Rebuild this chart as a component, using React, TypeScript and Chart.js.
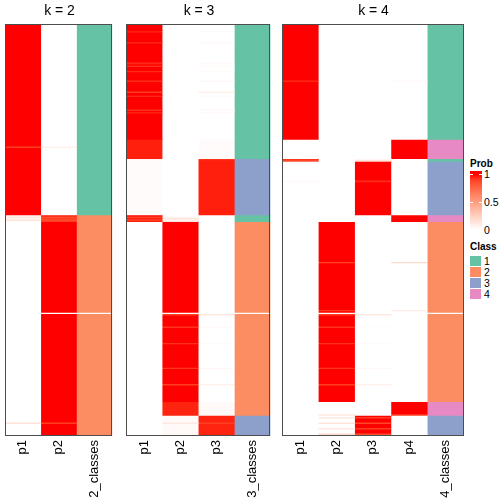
import React, { useEffect, useRef } from "react";
import { Chart, registerables } from "chart.js";
Chart.register(...registerables);

// ---- data (row groups, top to bottom; counts = number of samples) ----
const rowCounts = [
  5, 1, 7, 1, 14, 1, 1, 1, 3, 1, 6, 1, 7, 1, 2, 1, 9, 1, 1, 1, 19,
  5, 1, 8,
  1, 1,
  14, 1, 24,
  1, 1, 1, 1, 1,
  29, 1, 34, 1, 1, 1, 1, 8, 1, 11, 1, 17, 1, 11, 1, 12,
  9, 1,
  1, 1, 3, 1, 3, 1, 3, 2,
];

const k2Columns = ["p1", "p2", "2_classes"];
const k3Columns = ["p1", "p2", "p3", "3_classes"];
const k4Columns = ["p1", "p2", "p3", "p4", "4_classes"];

const k2Probs = [
  [1, 0], [1, 0], [1, 0], [1, 0], [1, 0], [1, 0], [1, 0], [1, 0], [1, 0], [1, 0], [1, 0],
  [1, 0], [1, 0], [1, 0], [1, 0], [1, 0], [1, 0], [1, 0], [1, 0], [1, 0], [1, 0],
  [1, 0], [0.9, 0.08], [1, 0],
  [1, 0], [1, 0],
  [1, 0], [1, 0], [1, 0],
  [0.02, 0.98], [0.15, 0.85], [0.03, 0.9], [0.15, 0.85], [0.03, 0.9],
  [0, 1], [0, 1], [0, 1], [0, 1], [0, 1], [0, 0], [0, 1], [0, 1], [0, 1], [0, 1], [0, 1], [0, 1], [0, 1], [0, 1], [0, 1], [0, 1],
  [0, 1], [0, 1],
  [0, 1], [0, 1], [0, 1], [0.15, 0.9], [0, 1], [0, 1], [0, 1], [0, 1],
];
const k2Classes = [
  1, 1, 1, 1, 1, 1, 1, 1, 1, 1, 1, 1, 1, 1, 1, 1, 1, 1, 1, 1, 1,
  1, 1, 1,
  1, 1,
  1, 1, 1,
  2, 2, 2, 2, 2,
  2, 2, 2, 2, 2, 0, 2, 2, 2, 2, 2, 2, 2, 2, 2, 2,
  2, 2,
  2, 2, 2, 2, 2, 2, 2, 2,
];

const k3Probs = [
  [1, 0, 0], [0.95, 0, 0.03], [1, 0, 0], [0.95, 0, 0.03], [1, 0, 0], [0.95, 0, 0.03], [1, 0, 0],
  [0.95, 0, 0.03], [1, 0, 0], [0.95, 0, 0.03], [1, 0, 0], [0.94, 0, 0.04], [1, 0, 0], [0.9, 0, 0.08],
  [1, 0, 0], [0.95, 0, 0.03], [1, 0, 0], [0.95, 0, 0.03], [1, 0, 0], [0.95, 0, 0.03], [1, 0, 0],
  [0.97, 0, 0.02], [0.97, 0, 0.02], [0.97, 0, 0.02],
  [0.05, 0, 0.92], [0.02, 0, 0.97],
  [0.02, 0, 0.97], [0.02, 0, 0.97], [0.02, 0, 0.97],
  [1, 0, 0], [0.88, 0.05, 0], [0.97, 0.15, 0], [0.88, 0.05, 0], [0.97, 0.15, 0],
  [0, 1, 0], [0, 1, 0], [0, 1, 0], [0, 1, 0], [0, 1, 0], [0, 0, 0], [0, 0.9, 0.12], [0, 1, 0],
  [0, 0.93, 0.03], [0, 1, 0], [0, 0.93, 0.03], [0, 1, 0], [0, 0.92, 0.05], [0, 1, 0], [0, 0.9, 0.07], [0, 1, 0],
  [0, 0.96, 0.03], [0, 0.96, 0.03],
  [0, 0.03, 0.96], [0, 0.03, 0.96], [0, 0.03, 0.96], [0, 0.12, 0.9], [0, 0.03, 0.96], [0, 0.03, 0.96], [0, 0.03, 0.96], [0, 0.03, 0.96],
];
const k3Classes = [
  1, 1, 1, 1, 1, 1, 1, 1, 1, 1, 1, 1, 1, 1, 1, 1, 1, 1, 1, 1, 1,
  1, 1, 1,
  3, 3,
  3, 3, 3,
  1, 1, 1, 1, 1,
  2, 2, 2, 2, 2, 0, 2, 2, 2, 2, 2, 2, 2, 2, 2, 2,
  2, 2,
  3, 3, 3, 3, 3, 3, 3, 3,
];

const k4Probs = [
  [1, 0, 0, 0], [1, 0, 0, 0], [1, 0, 0, 0], [1, 0, 0, 0], [1, 0, 0, 0], [1, 0, 0, 0], [1, 0, 0, 0],
  [1, 0, 0, 0], [1, 0, 0, 0], [1, 0, 0, 0], [1, 0, 0, 0], [0.95, 0, 0, 0.03], [1, 0, 0, 0], [1, 0, 0, 0],
  [1, 0, 0, 0], [1, 0, 0, 0], [1, 0, 0, 0], [1, 0, 0, 0], [1, 0, 0, 0], [1, 0, 0, 0], [1, 0, 0, 0],
  [0, 0, 0, 1], [0, 0, 0, 1], [0, 0, 0, 1],
  [0.92, 0, 0.05, 0], [0.85, 0, 0.15, 0],
  [0, 0, 1, 0], [0.03, 0, 0.95, 0], [0, 0, 1, 0],
  [0, 0, 0, 1], [0, 0, 0, 1], [0, 0, 0, 1], [0, 0, 0, 1], [0, 0, 0, 1],
  [0, 1, 0, 0], [0, 0.88, 0, 0.2], [0, 1, 0, 0], [0, 0.92, 0, 0.1], [0, 1, 0, 0], [0, 0, 0, 0],
  [0, 0.9, 0.12, 0], [0, 1, 0, 0], [0, 0.93, 0.02, 0], [0, 1, 0, 0], [0, 0.93, 0.02, 0], [0, 1, 0, 0],
  [0, 0.92, 0.04, 0], [0, 1, 0, 0], [0, 0.9, 0.07, 0], [0, 1, 0, 0],
  [0, 0, 0, 1], [0, 0.12, 0, 0.9],
  [0, 0, 1, 0], [0, 0.12, 0.9, 0], [0, 0, 1, 0], [0, 0.15, 0.88, 0], [0, 0, 1, 0], [0, 0.12, 0.9, 0], [0, 0, 1, 0], [0, 0.2, 0.85, 0],
];
const k4Classes = [
  1, 1, 1, 1, 1, 1, 1, 1, 1, 1, 1, 1, 1, 1, 1, 1, 1, 1, 1, 1, 1,
  4, 4, 4,
  1, 1,
  3, 3, 3,
  4, 4, 4, 4, 4,
  2, 2, 2, 2, 2, 0, 2, 2, 2, 2, 2, 2, 2, 2, 2, 2,
  4, 4,
  3, 3, 3, 3, 3, 3, 3, 3,
];

const classLabels = ["1", "2", "3", "4"];
const probTicks = ["1", "0.5", "0"];

// ---- styling ----
const CLASS_COLORS: Record<number, string> = { 0: "#ffffff", 1: "#66C2A5", 2: "#FC8D62", 3: "#8DA0CB", 4: "#E78AC3" };
const FONT = "'Liberation Sans', Arial, Helvetica, sans-serif";

function labToRgb(L: number, a: number, b: number): string {
  const fy = (L + 16) / 116;
  const fx = fy + a / 500;
  const fz = fy - b / 200;
  const f = (t: number) => (t ** 3 > 0.008856 ? t ** 3 : (t - 16 / 116) / 7.787);
  const X = 0.95047 * f(fx), Y = f(fy), Z = 1.08883 * f(fz);
  const r = 3.2406 * X - 1.5372 * Y - 0.4986 * Z;
  const g = -0.9689 * X + 1.8758 * Y + 0.0415 * Z;
  const bl = 0.0557 * X - 0.204 * Y + 1.057 * Z;
  const gam = (c: number) => {
    c = Math.max(0, Math.min(1, c));
    return c <= 0.0031308 ? 12.92 * c : 1.055 * Math.pow(c, 1 / 2.4) - 0.055;
  };
  return `rgb(${Math.round(gam(r) * 255)},${Math.round(gam(g) * 255)},${Math.round(gam(bl) * 255)})`;
}
function probColor(v: number): string {
  return labToRgb(100 + (53.24 - 100) * v, 80.09 * v, 67.2 * v);
}

const TOTAL = rowCounts.reduce((s, n) => s + n, 0);

const borderPlugin = {
  id: "panelBorder",
  afterDatasetsDraw(chart: any) {
    const { ctx, chartArea } = chart;
    ctx.save();
    ctx.strokeStyle = "#4d4d4d";
    ctx.lineWidth = 1;
    ctx.strokeRect(
      Math.round(chartArea.left) + 0.5,
      Math.round(chartArea.top) + 0.5,
      Math.round(chartArea.right - chartArea.left) - 1,
      Math.round(chartArea.bottom - chartArea.top) - 1
    );
    ctx.restore();
  },
};

function Panel(props: { left: number; width: number; title: string; columns: string[]; probs: number[][]; classes: number[] }) {
  const ref = useRef<HTMLCanvasElement>(null);
  useEffect(() => {
    const { columns, probs, classes, title } = props;
    const starts: number[] = [];
    let acc = 0;
    rowCounts.forEach((n) => { starts.push(acc); acc += n; });
    const datasets: any[] = [];
    columns.forEach((_, ci) => {
      const isClass = ci === columns.length - 1;
      const colorAt = (gi: number) => (isClass ? CLASS_COLORS[classes[gi]] : probColor(probs[gi][ci]));
      let gi = 0;
      while (gi < rowCounts.length) {
        const c = colorAt(gi);
        let gj = gi;
        while (gj + 1 < rowCounts.length && colorAt(gj + 1) === c) gj++;
        const s = starts[gi];
        const e = starts[gj] + rowCounts[gj];
        datasets.push({
          data: columns.map((__, k) => (k === ci ? [s, e] : null)),
          backgroundColor: c,
          borderWidth: 0,
          grouped: false,
          barPercentage: 1,
          categoryPercentage: 1,
          inflateAmount: 0.3,
        });
        gi = gj + 1;
      }
    });
    const chart = new Chart(ref.current as HTMLCanvasElement, {
      type: "bar",
      data: { labels: columns, datasets },
      options: {
        animation: false,
        responsive: false,
        maintainAspectRatio: false,
        layout: { padding: 0 },
        plugins: {
          legend: { display: false },
          tooltip: { enabled: false },
          title: {
            display: true,
            text: title,
            color: "#000",
            font: { family: FONT, size: 14, weight: "normal" as any, lineHeight: 1.2 },
            padding: { top: 3, bottom: 4.2 },
          },
        },
        scales: {
          x: {
            type: "category",
            offset: true,
            grid: { display: false, drawTicks: false },
            border: { display: false },
            ticks: {
              color: "#000",
              font: { family: FONT, size: 13 },
              minRotation: 90,
              maxRotation: 90,
              autoSkip: false,
              padding: 4,
            },
            afterFit: (scale: any) => { scale.height = 68; },
          },
          y: { type: "linear", display: false, min: 0, max: TOTAL, reverse: true },
        },
      },
      plugins: [borderPlugin],
    });
    return () => chart.destroy();
  }, []);
  return (
    <canvas
      ref={ref}
      width={props.width}
      height={504}
      style={{ position: "absolute", left: props.left, top: 0, width: props.width, height: 504 }}
    />
  );
}

export default function App() {
  const gradStops: string[] = [];
  for (let i = 0; i <= 10; i++) gradStops.push(`${probColor(1 - i / 10)} ${5 + i * 9}%`);
  const txt = { position: "absolute" as const, fontFamily: FONT, color: "#000", whiteSpace: "nowrap" as const };
  return (
    <div style={{ position: "absolute", left: 0, top: 0, width: 504, height: 504, background: "#fff", overflow: "hidden" }}>
      <Panel left={5} width={109} title="k = 2" columns={k2Columns} probs={k2Probs} classes={k2Classes} />
      <Panel left={126} width={146} title="k = 3" columns={k3Columns} probs={k3Probs} classes={k3Classes} />
      <Panel left={282} width={183} title="k = 4" columns={k4Columns} probs={k4Probs} classes={k4Classes} />
      {/* legend: Prob */}
      <div style={{ ...txt, left: 470, top: 157, fontSize: 10, fontWeight: "bold", lineHeight: "13px" }}>Prob</div>
      <div style={{ position: "absolute", left: 470, top: 171, width: 12, height: 62, background: `linear-gradient(to bottom, ${gradStops.join(", ")})` }} />
      {[174, 202].map((y) => (
        <React.Fragment key={y}>
          <div style={{ position: "absolute", left: 470, top: y, width: 3, height: 1, background: "#fff" }} />
          <div style={{ position: "absolute", left: 479, top: y, width: 3, height: 1, background: "#fff" }} />
        </React.Fragment>
      ))}
      {probTicks.map((t, i) => (
        <div key={t} style={{ ...txt, left: 484, top: 174 + i * 28 - 7, fontSize: 10.5, lineHeight: "14px" }}>{t}</div>
      ))}
      {/* legend: Class */}
      <div style={{ ...txt, left: 470, top: 240, fontSize: 10, fontWeight: "bold", lineHeight: "13px" }}>Class</div>
      {classLabels.map((c, i) => (
        <React.Fragment key={c}>
          <div style={{ position: "absolute", left: 470, top: 256 + i * 11, width: 11, height: 10, background: CLASS_COLORS[i + 1] }} />
          <div style={{ ...txt, left: 484, top: 254 + i * 11, fontSize: 10.5, lineHeight: "14px" }}>{c}</div>
        </React.Fragment>
      ))}
    </div>
  );
}
